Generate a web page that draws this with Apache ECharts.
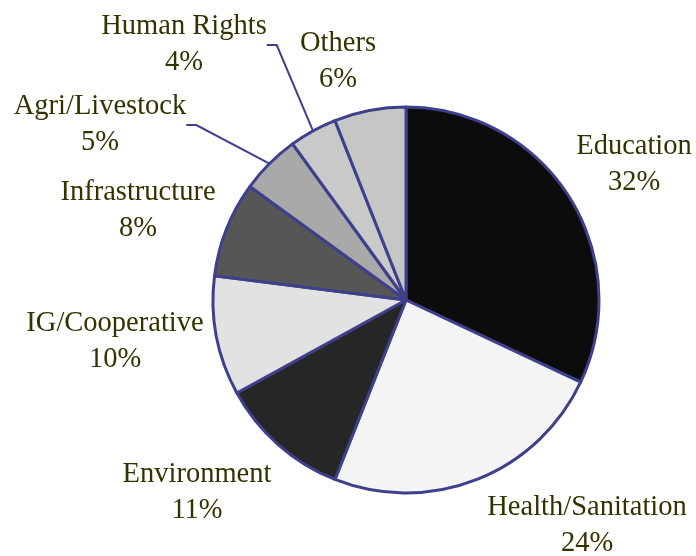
<!DOCTYPE html>
<html>
<head>
<meta charset="utf-8">
<script src="https://cdn.jsdelivr.net/npm/echarts@6/dist/echarts.min.js"></script>
<style>
  html, body { margin: 0; padding: 0; background: #fff; }
  #main { width: 696px; height: 556px; }
</style>
</head>
<body>
<div id="main"></div>
<script>
// data (percent)
var categories = ['Education', 'Health/Sanitation', 'Environment', 'IG/Cooperative',
  'Infrastructure', 'Agri/Livestock', 'Human Rights', 'Others'];
var shares = [32, 24, 11, 10, 8, 5, 4, 6];
var sliceColors = ['#0c0c0c', '#f4f4f4', '#262626', '#e2e2e2',
  '#565656', '#a9a9a9', '#c9c9c9', '#c6c6c6'];
// which labels get a leader line
var withLine = [false, false, false, false, false, true, true, false];
// label block centres
var labelPos = [[634, 165], [587, 526], [197, 493], [115, 342],
  [138, 211], [100, 125], [184, 45], [338, 62]];

var myChart = echarts.init(document.getElementById('main'));

var pieData = categories.map(function(name, i) {
  return {
    name: name,
    value: shares[i],
    itemStyle: { color: sliceColors[i] },
    labelLine: { show: withLine[i] }
  };
});

var option = {
  backgroundColor: '#ffffff',
  animation: false,
  series: [{
    type: 'pie',
    center: [406, 300],
    radius: 193,
    startAngle: 90,
    clockwise: true,
    data: pieData,
    itemStyle: {
      borderColor: '#3f3f8c',
      borderWidth: 3
    },
    label: {
      show: true,
      position: 'outside',
      overflow: 'none',
      formatter: function(p) {
        return p.name + '\n' + p.value + '%';
      },
      fontFamily: 'Liberation Serif',
      fontSize: 28.5,
      lineHeight: 36,
      color: '#333300',
      align: 'center'
    },
    labelLine: {
      lineStyle: { color: '#3f3f8c', width: 2 },
      length: 10,
      length2: 10
    },
    labelLayout: function(p) {
      var pos = labelPos[p.dataIndex];
      return {
        x: pos[0],
        y: pos[1],
        align: 'center',
        verticalAlign: 'middle'
      };
    }
  }]
};

myChart.setOption(option);
</script>
</body>
</html>
